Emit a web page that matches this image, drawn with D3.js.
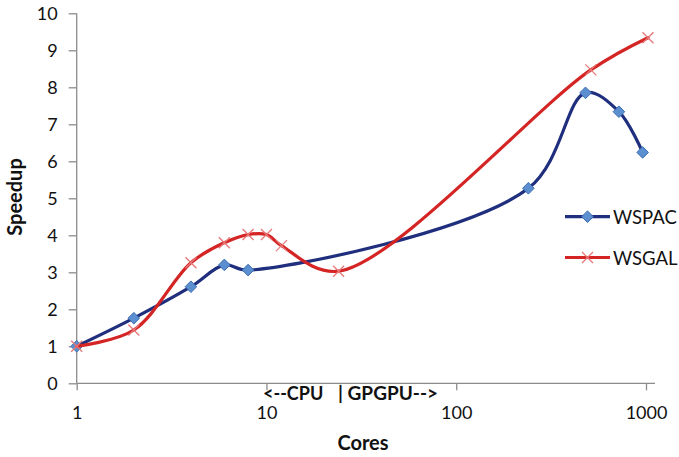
<!DOCTYPE html>
<html>
<head>
<meta charset="utf-8">
<script src="https://cdn.jsdelivr.net/npm/d3@7"></script>
<style>
  html, body { margin: 0; padding: 0; background: #fff; }
  svg { display: block; font-family: Lato, "Open Sans", sans-serif; }
</style>
</head>
<body>
<svg id="chart" width="679" height="457"></svg>
<script>
// Speedup against number of cores (log scale)
const wspacCores   = [1, 2, 4, 6, 8, 240, 480, 720, 960];
const wspacSpeedup = [1.0, 1.76, 2.61, 3.2, 3.06, 5.27, 7.85, 7.34, 6.24];

const wsgalCores   = [1, 2, 4, 6, 8, 10, 12, 24, 512, 1024];
const wsgalSpeedup = [1.0, 1.44, 3.26, 3.8, 4.02, 4.02, 3.72, 3.03, 8.47, 9.34];

const xTicks = [1, 10, 100, 1000];
const yTicks = [0, 1, 2, 3, 4, 5, 6, 7, 8, 9, 10];

const seriesList = [
  { name: "WSPAC", cores: wspacCores, speedup: wspacSpeedup, marker: "diamond" },
  { name: "WSGAL", cores: wsgalCores, speedup: wsgalSpeedup, marker: "cross" }
];

const svg = d3.select("#chart");
const x = d3.scaleLog().domain([1, 1000]).range([76.7, 646]);
const y = d3.scaleLinear().domain([0, 10]).range([383.3, 13.3]);

const axisColor = "#8c8c8c";
const lineColors = { WSPAC: "#1f2f7e", WSGAL: "#d42424" };

// Axes
const xAxis = svg.append("g").attr("transform", `translate(0,${y(0)})`)
  .call(d3.axisBottom(x).tickValues(xTicks).tickFormat(d3.format("d")).tickSize(7).tickPadding(16));
const yAxis = svg.append("g").attr("transform", `translate(${x(1)},0)`)
  .call(d3.axisLeft(y).tickValues(yTicks).tickSize(8).tickPadding(11));

[xAxis, yAxis].forEach(g => {
  g.select(".domain").remove();
  g.selectAll(".tick line").attr("stroke", axisColor).attr("stroke-width", 1.3);
  g.selectAll(".tick text").attr("fill", "#111").style("font-size", "18px")
    .style("font-family", "Lato, 'Open Sans', sans-serif");
});
svg.append("line").attr("x1", x(1)).attr("x2", 655).attr("y1", y(0)).attr("y2", y(0))
  .attr("stroke", axisColor).attr("stroke-width", 1.3);
svg.append("line").attr("x1", x(1)).attr("x2", x(1)).attr("y1", y(0)).attr("y2", y(10))
  .attr("stroke", axisColor).attr("stroke-width", 1.3);

// Axis titles
svg.append("text").attr("x", 363).attr("y", 450).attr("text-anchor", "middle")
  .style("font-size", "20px").style("font-weight", 700).attr("fill", "#111").text("Cores");
svg.append("text").attr("transform", "translate(22,197) rotate(-90)").attr("text-anchor", "middle")
  .style("font-size", "20px").style("font-weight", 700).attr("fill", "#111").text("Speedup");

// CPU / GPGPU divider note under the axis
svg.append("text").attr("x", 263).attr("y", 399.5).style("font-size", "18px").style("font-weight", 700)
  .attr("fill", "#111").text("<--CPU");
svg.append("text").attr("x", 338).attr("y", 399.5).style("font-size", "19px").style("font-weight", 700)
  .attr("fill", "#111").text("| GPGPU-->");

// Series
const line = d3.line().x(d => x(d[0])).y(d => y(d[1])).curve(d3.curveCatmullRom.alpha(0.5));

function drawMarker(g, kind, cx, cy) {
  if (kind === "diamond") {
    const s = 5.8;
    g.append("path")
      .attr("d", `M${cx},${cy - s}L${cx + s},${cy}L${cx},${cy + s}L${cx - s},${cy}Z`)
      .attr("fill", "#5b8fd0").attr("stroke", "#3b6db2").attr("stroke-width", 1);
  } else {
    const s = 5.5;
    g.append("path")
      .attr("d", `M${cx - s},${cy - s}L${cx + s},${cy + s}M${cx - s},${cy + s}L${cx + s},${cy - s}`)
      .attr("stroke", "#e87878").attr("stroke-width", 1.3).attr("fill", "none");
  }
}

seriesList.forEach(s => {
  const pts = s.cores.map((c, i) => [c, s.speedup[i]]);
  const g = svg.append("g");
  g.append("path").datum(pts).attr("d", line).attr("fill", "none")
    .attr("stroke", lineColors[s.name]).attr("stroke-width", 3.2).attr("stroke-linecap", "round");
  pts.forEach(p => drawMarker(g, s.marker, x(p[0]), y(p[1])));
});

// Legend
const legendY = [216.7, 257.5];
seriesList.forEach((s, i) => {
  const g = svg.append("g");
  const ly = legendY[i];
  g.append("line").attr("x1", 565).attr("x2", 610).attr("y1", ly).attr("y2", ly)
    .attr("stroke", lineColors[s.name]).attr("stroke-width", 3.2);
  drawMarker(g, s.marker, 587.5, ly);
  g.append("text").attr("x", 613).attr("y", ly + 7.5).style("font-size", "18.5px")
    .attr("fill", "#111").text(s.name);
});
</script>
</body>
</html>
